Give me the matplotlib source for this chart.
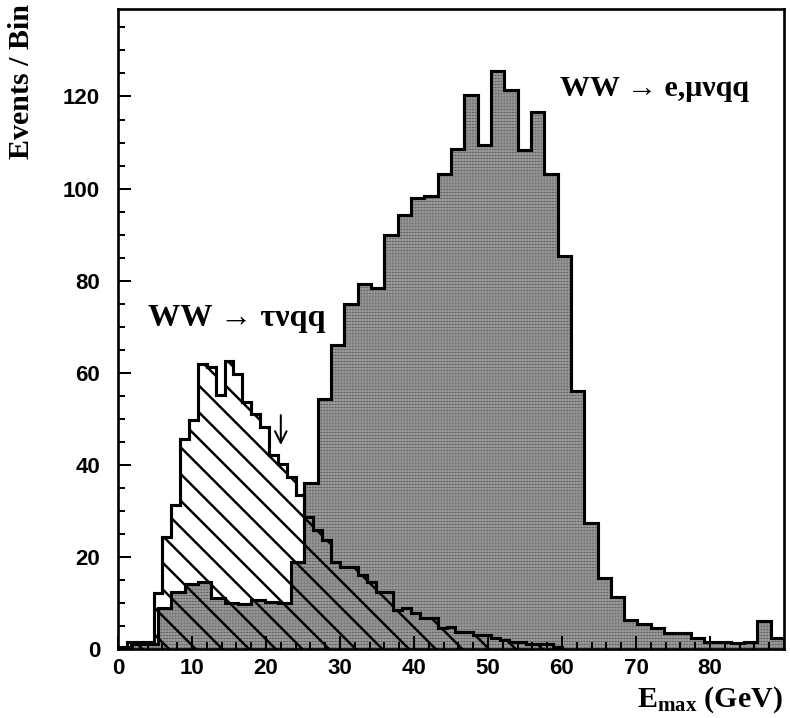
import numpy as np
import matplotlib
matplotlib.use('Agg')
import matplotlib.pyplot as plt
from matplotlib.ticker import MultipleLocator

# WW -> e,mu nu qq : 50 bins of 1.8 GeV between 0 and 90 GeV
emu_edges = np.linspace(0, 90, 51)
emu_counts = [0.5, 1, 1, 9, 12.4, 14.2, 14.5, 11, 10, 9.8,
              10.6, 10.3, 10, 19, 36, 54.4, 66, 74.9, 79.3, 78.3,
              89.9, 94.3, 98, 98.4, 103.2, 108.5, 120.4, 109.4, 125.6, 121.5,
              108.3, 116.6, 103.2, 85.3, 56, 27.4, 15.5, 11.3, 6.3, 5.4,
              4.5, 3.5, 3.5, 2.4, 1.6, 1.6, 1.4, 1.6, 6.1, 2.4]

# WW -> tau nu qq : 50 bins of 1.2 GeV between 0 and 60 GeV
tau_edges = np.linspace(0, 60, 51)
tau_counts = [0, 1.5, 1.5, 1.5, 12.1, 24.3, 31.2, 45.7, 49.7, 62.0,
              61.3, 55.1, 62.6, 59.8, 53.7, 51.1, 48.2, 42.1, 40.1, 37.4,
              33.4, 28.6, 25.8, 23.6, 19, 17.8, 17.8, 16, 14.6, 12.4,
              12.4, 8.4, 8.8, 7.8, 6.7, 6.7, 4.5, 4.8, 3.7, 3.7,
              3, 3, 2.4, 2, 1.5, 1.5, 1, 1, 1, 0.5]

cut_value = 22.0
xticks = [0, 10, 20, 30, 40, 50, 60, 70, 80]
yticks = [0, 20, 40, 60, 80, 100, 120]

serif = ['Liberation Serif', 'DejaVu Serif']
plt.rcParams['font.family'] = ['Liberation Sans', 'DejaVu Sans']
plt.rcParams['font.weight'] = 'bold'
plt.rcParams['xtick.labelsize'] = 10
plt.rcParams['ytick.labelsize'] = 10
plt.rcParams['mathtext.fontset'] = 'custom'
plt.rcParams['mathtext.rm'] = 'Liberation Serif'
plt.rcParams['mathtext.bf'] = 'Liberation Serif:bold'

DPI = 160
fig = plt.figure(figsize=(790 / DPI, 718 / DPI), dpi=DPI)
ax = fig.add_axes([118 / 790, 69 / 718, 666 / 790, 640 / 718])

# dotted e,mu histogram first, hatched tau histogram drawn over it
with plt.rc_context({'hatch.linewidth': 0.45}):
    emu = ax.stairs(emu_counts, emu_edges, fill=True, facecolor='white',
                    edgecolor='black', hatch='.' * 18, linewidth=1.4)
    if hasattr(emu, 'set_hatch_linewidth'):
        emu.set_hatch_linewidth(0.45)
with plt.rc_context({'hatch.linewidth': 1.1}):
    tau = ax.stairs(tau_counts, tau_edges, fill=True, facecolor='none',
                    edgecolor='black', hatch='\\\\', linewidth=1.4)
    if hasattr(tau, 'set_hatch_linewidth'):
        tau.set_hatch_linewidth(1.1)

ax.annotate('', xy=(cut_value, 44.3), xytext=(cut_value, 50.8),
            arrowprops=dict(arrowstyle='->', lw=0.9, color='black',
                            shrinkA=0, shrinkB=0, mutation_scale=13))

ax.text(59.7, 121.7, 'WW \u2192 e,\u03bc\u03bdqq', family=serif, weight='bold',
        fontsize=13.5, ha='left', va='center')
ax.text(4.0, 71.8, 'WW \u2192 \u03c4\u03bdqq', family=serif, weight='bold',
        fontsize=14.5, ha='left', va='center')

ax.set_xlim(0, 90)
ax.set_ylim(0, 139)
ax.set_xticks(xticks)
ax.set_yticks(yticks)
ax.xaxis.set_minor_locator(MultipleLocator(2))
ax.yaxis.set_minor_locator(MultipleLocator(5))
ax.tick_params(which='both', direction='in', top=False, right=False, width=0.9)
ax.tick_params(which='major', length=5.9)
ax.tick_params(which='minor', length=3.2)
ax.tick_params(axis='y', pad=8)
ax.tick_params(axis='x', pad=4)
for sp in ax.spines.values():
    sp.set_linewidth(1.2)

fig.text(22 / 790, 1 - 4 / 718, 'Events / Bin', family=serif, weight='bold',
         fontsize=13.5, rotation=90, ha='center', va='top')
fig.text(783 / 790, 1 - 707 / 718, r'$\mathbf{E_{max}}$ (GeV)', family=serif,
         weight='bold', fontsize=13.5, ha='right', va='baseline')

fig.savefig('out.png', dpi=DPI)
